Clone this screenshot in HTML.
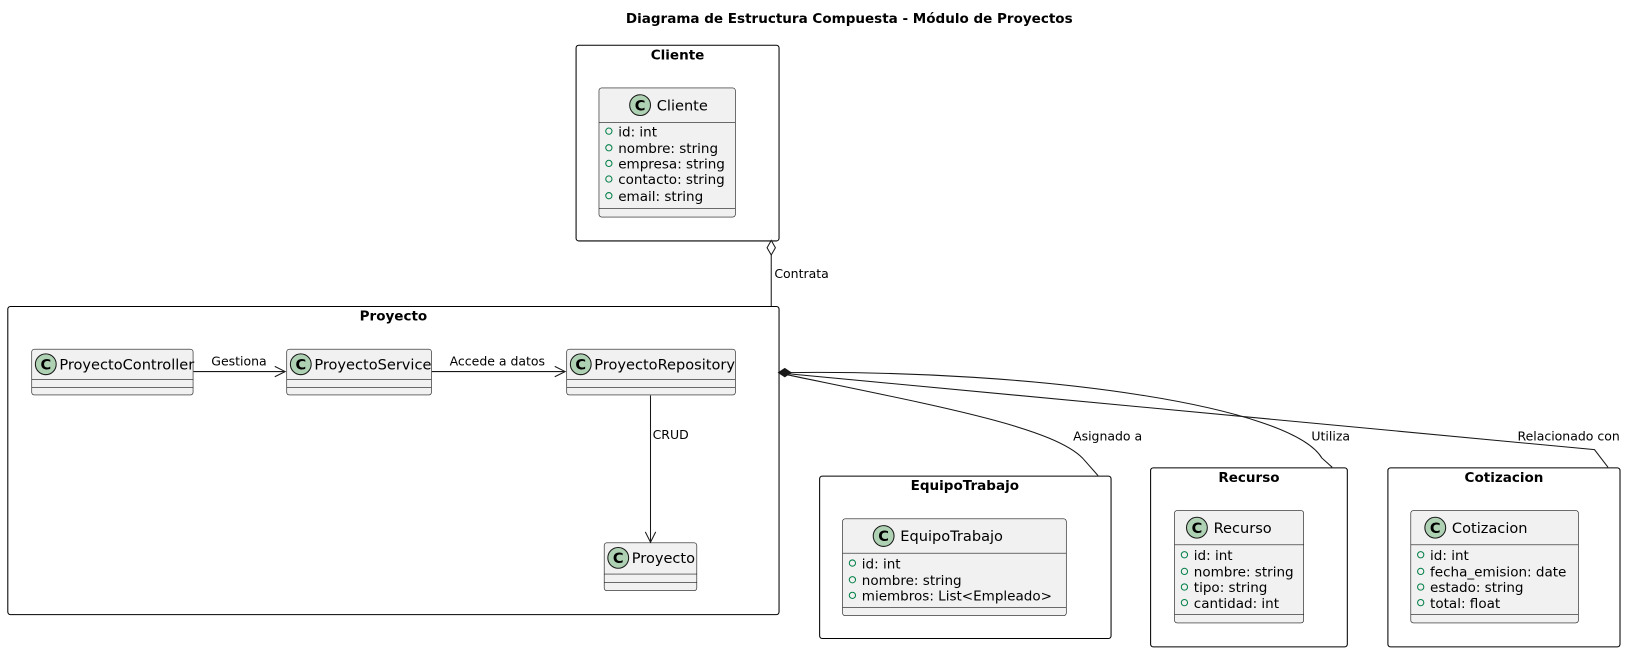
<!DOCTYPE html>
<html><head><meta charset="utf-8"><style>
html,body{margin:0;padding:0;background:#fff;}
svg{display:block;font-family:"DejaVu Sans","Liberation Sans",sans-serif;}
</style></head><body>
<svg width="1632" height="652" viewBox="0 0 1632 652" xmlns="http://www.w3.org/2000/svg">
<defs>
<g id="cicon"><circle r="10" fill="#ADD1B2" stroke="#181818" stroke-width="1"/><text y="5" text-anchor="middle" font-size="14" font-weight="bold" fill="#000">C</text></g>
</defs>
<g transform="scale(1.0408)">
<text x="816" y="22" text-anchor="middle" font-size="13" font-weight="bold">Diagrama de Estructura Compuesta - Módulo de Proyectos</text>

<g fill="none" stroke="#000" stroke-width="1">
<rect x="553.5" y="43.5" width="195" height="188" rx="2.5"/>
<rect x="7.5" y="294.5" width="741" height="296" rx="2.5"/>
<rect x="787.5" y="457.5" width="280" height="156" rx="2.5"/>
<rect x="1105.5" y="449.5" width="189" height="172" rx="2.5"/>
<rect x="1333.5" y="449.5" width="223" height="172" rx="2.5"/>
</g>
<g font-size="13" font-weight="bold" text-anchor="middle">
<text x="651" y="57">Cliente</text>
<text x="378" y="308">Proyecto</text>
<text x="927" y="471">EquipoTrabajo</text>
<text x="1200" y="463">Recurso</text>
<text x="1445" y="463">Cotizacion</text>
</g>

<g fill="#F1F1F1" stroke="#181818" stroke-width="0.6">
<rect x="575.5" y="84.5" width="131" height="124" rx="2.5"/>
<line x1="575.5" y1="117.5" x2="706.5" y2="117.5"/><line x1="575.5" y1="200.5" x2="706.5" y2="200.5"/>
<rect x="30.5" y="335.5" width="155" height="44" rx="2.5"/>
<line x1="30.5" y1="364.5" x2="185.5" y2="364.5"/><line x1="30.5" y1="372.5" x2="185.5" y2="372.5"/>
<rect x="275.5" y="335.5" width="139" height="44" rx="2.5"/>
<line x1="275.5" y1="364.5" x2="414.5" y2="364.5"/><line x1="275.5" y1="372.5" x2="414.5" y2="372.5"/>
<rect x="544.5" y="335.5" width="162" height="44" rx="2.5"/>
<line x1="544.5" y1="364.5" x2="706.5" y2="364.5"/><line x1="544.5" y1="372.5" x2="706.5" y2="372.5"/>
<rect x="580.5" y="521.5" width="89" height="46" rx="2.5"/>
<line x1="580.5" y1="551.5" x2="669.5" y2="551.5"/><line x1="580.5" y1="559.5" x2="669.5" y2="559.5"/>
<rect x="809.5" y="498.5" width="215" height="93" rx="2.5"/>
<line x1="809.5" y1="531.5" x2="1024.5" y2="531.5"/><line x1="809.5" y1="583.5" x2="1024.5" y2="583.5"/>
<rect x="1128.5" y="490.5" width="124" height="108" rx="2.5"/>
<line x1="1128.5" y1="523.5" x2="1252.5" y2="523.5"/><line x1="1128.5" y1="590.5" x2="1252.5" y2="590.5"/>
<rect x="1355.5" y="490.5" width="161" height="108" rx="2.5"/>
<line x1="1355.5" y1="523.5" x2="1516.5" y2="523.5"/><line x1="1355.5" y1="590.5" x2="1516.5" y2="590.5"/>
</g>
<use href="#cicon" x="615" y="101"/>
<use href="#cicon" x="44" y="350"/>
<use href="#cicon" x="289" y="350"/>
<use href="#cicon" x="558" y="350"/>
<use href="#cicon" x="594" y="536"/>
<use href="#cicon" x="849" y="515"/>
<use href="#cicon" x="1150" y="507"/>
<use href="#cicon" x="1379" y="507"/>
<g font-size="14">
<text x="631" y="106">Cliente</text>
<text x="57" y="355">ProyectoController</text>
<text x="302" y="355">ProyectoService</text>
<text x="571" y="355">ProyectoRepository</text>
<text x="607" y="541">Proyecto</text>
<text x="865" y="520">EquipoTrabajo</text>
<text x="1166" y="512">Recurso</text>
<text x="1395" y="512">Cotizacion</text>
</g>
<g font-size="13">
<g fill="none" stroke="#038048" stroke-width="1">
<circle cx="585" cy="126" r="3"/><circle cx="585" cy="142" r="3"/><circle cx="585" cy="157" r="3"/><circle cx="585" cy="172" r="3"/><circle cx="585" cy="188" r="3"/>
<circle cx="819" cy="541" r="3"/><circle cx="819" cy="557" r="3"/><circle cx="819" cy="572" r="3"/>
<circle cx="1138" cy="533" r="3"/><circle cx="1138" cy="549" r="3"/><circle cx="1138" cy="564" r="3"/><circle cx="1138" cy="579" r="3"/>
<circle cx="1365" cy="533" r="3"/><circle cx="1365" cy="549" r="3"/><circle cx="1365" cy="564" r="3"/><circle cx="1365" cy="579" r="3"/>
</g>
<text x="594" y="131">id: int</text><text x="594" y="147">nombre: string</text><text x="594" y="162">empresa: string</text><text x="594" y="177">contacto: string</text><text x="594" y="193">email: string</text>
<text x="828" y="546">id: int</text><text x="828" y="562">nombre: string</text><text x="828" y="577">miembros: List&lt;Empleado&gt;</text>
<text x="1147" y="538">id: int</text><text x="1147" y="554">nombre: string</text><text x="1147" y="569">tipo: string</text><text x="1147" y="584">cantidad: int</text>
<text x="1374" y="538">id: int</text><text x="1374" y="554">fecha_emision: date</text><text x="1374" y="569">estado: string</text><text x="1374" y="584">total: float</text>
</g>

<g fill="none" stroke="#181818" stroke-width="1">
<line x1="741" y1="245" x2="741" y2="294"/>
<polygon points="741,231 745,238 741,245 737,238" fill="#fff"/>
<line x1="186" y1="357" x2="273" y2="357"/>
<polyline points="264,352 274,357 264,362"/>
<line x1="415" y1="357" x2="542" y2="357"/>
<polyline points="533,352 543,357 533,362"/>
<line x1="625" y1="380" x2="625" y2="520"/>
<polyline points="620,511 625,521 630,511"/>
<path d="M756,360 C900,390 1010,410 1040,440 L1055,457"/>
<path d="M756,358 C1000,355 1240,390 1270,440 L1280,449"/>
<path d="M756,359 L1532,432 L1545,449"/>
<polygon points="748,358 754,354 760,358 754,362" fill="#181818"/>
</g>
<g font-size="12">
<text x="744" y="267">Contrata</text>
<text x="203" y="351">Gestiona</text>
<text x="432" y="351">Accede a datos</text>
<text x="627" y="422">CRUD</text>
<text x="1031" y="423">Asignado a</text>
<text x="1260" y="423">Utiliza</text>
<text x="1458" y="423">Relacionado con</text>
</g>
</g>
</svg>
</body></html>
